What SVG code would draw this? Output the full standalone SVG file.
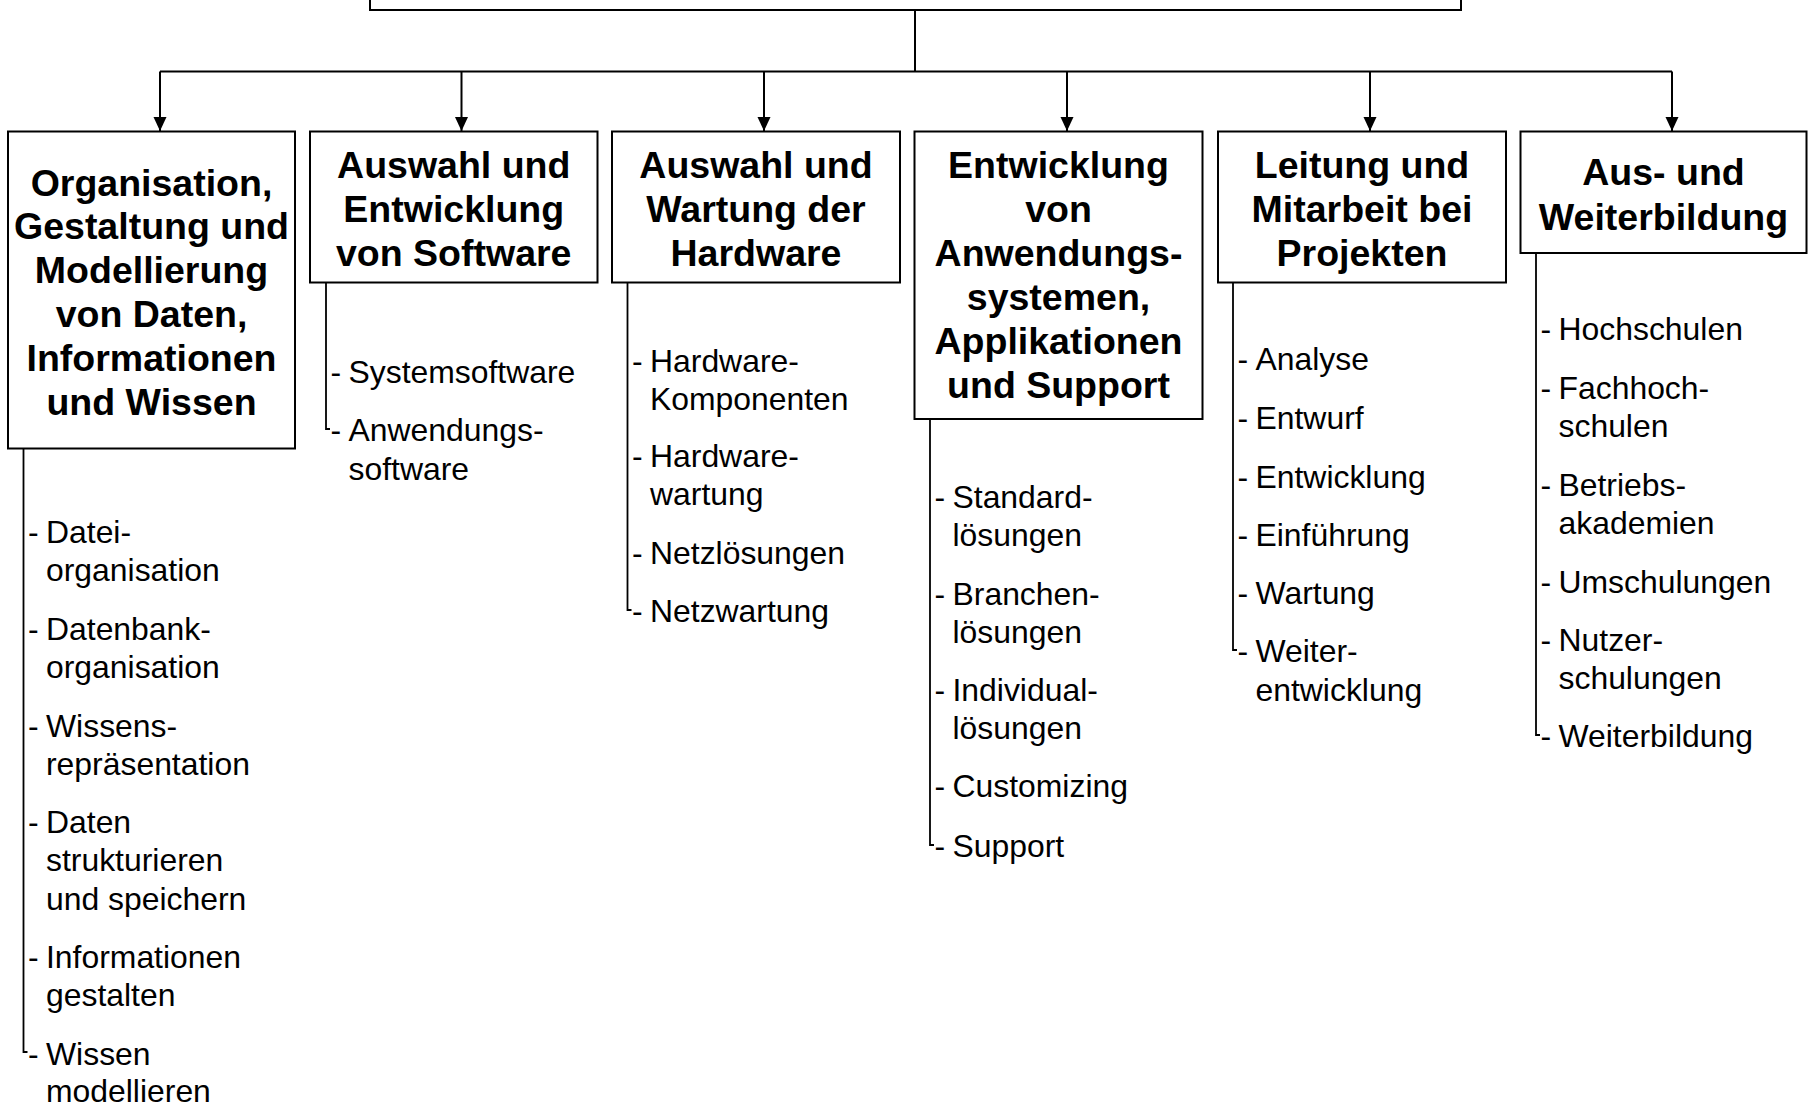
<svg xmlns="http://www.w3.org/2000/svg" width="1808" height="1103" viewBox="0 0 1808 1103">
<defs>
<style>
.box{fill:#fff;stroke:#000;stroke-width:2}
.conn{fill:none;stroke:#000;stroke-width:2}
.br{fill:none;stroke:#000;stroke-width:1.8}
.h{font-family:"Liberation Sans",Arial,sans-serif;font-weight:bold;font-size:37.5px;text-anchor:middle;fill:#000}
.t{font-family:"Liberation Sans",Arial,sans-serif;font-size:31.9px;fill:#000}
</style>
<marker id="arr" markerUnits="userSpaceOnUse" markerWidth="14" markerHeight="14" refX="14" refY="7" orient="auto">
<path d="M0,0.5 L14,7 L0,13.5 z" fill="#000"/>
</marker>
</defs>
<rect width="1808" height="1103" fill="#fff"/>

<g id="root">
<rect class="box" x="370" y="-60" width="1091" height="70"/>
</g>

<g id="connectors">
<path class="conn" d="M915,10 V71.5 M160,71.5 H1672"/>
<line class="conn" x1="160" y1="71.5" x2="160" y2="131" marker-end="url(#arr)"/>
<line class="conn" x1="461.5" y1="71.5" x2="461.5" y2="131" marker-end="url(#arr)"/>
<line class="conn" x1="764" y1="71.5" x2="764" y2="131" marker-end="url(#arr)"/>
<line class="conn" x1="1067" y1="71.5" x2="1067" y2="131" marker-end="url(#arr)"/>
<line class="conn" x1="1370" y1="71.5" x2="1370" y2="131" marker-end="url(#arr)"/>
<line class="conn" x1="1672" y1="71.5" x2="1672" y2="131" marker-end="url(#arr)"/>
</g>

<g id="node1">
<rect class="box" x="8" y="131.5" width="287" height="317"/>
<text class="h" x="151.5" y="195.5">Organisation,</text>
<text class="h" x="151.5" y="239.3">Gestaltung und</text>
<text class="h" x="151.5" y="283.1">Modellierung</text>
<text class="h" x="151.5" y="326.9">von Daten,</text>
<text class="h" x="151.5" y="370.7">Informationen</text>
<text class="h" x="151.5" y="414.5">und Wissen</text>
<path class="br" d="M23.5,448.5 V1052 h4"/>
<text class="t" x="28" y="543">-</text><text class="t" x="46" y="543">Datei-</text>
<text class="t" x="46" y="581">organisation</text>
<text class="t" x="28" y="640">-</text><text class="t" x="46" y="640">Datenbank-</text>
<text class="t" x="46" y="678">organisation</text>
<text class="t" x="28" y="737">-</text><text class="t" x="46" y="737">Wissens-</text>
<text class="t" x="46" y="775">repräsentation</text>
<text class="t" x="28" y="833">-</text><text class="t" x="46" y="833">Daten</text>
<text class="t" x="46" y="871">strukturieren</text>
<text class="t" x="46" y="910">und speichern</text>
<text class="t" x="28" y="968">-</text><text class="t" x="46" y="968">Informationen</text>
<text class="t" x="46" y="1006">gestalten</text>
<text class="t" x="28" y="1065">-</text><text class="t" x="46" y="1065">Wissen</text>
<text class="t" x="46" y="1102">modellieren</text>
</g>

<g id="node2">
<rect class="box" x="310" y="131.5" width="287.5" height="151"/>
<text class="h" x="453.75" y="178">Auswahl und</text>
<text class="h" x="453.75" y="222">Entwicklung</text>
<text class="h" x="453.75" y="266">von Software</text>
<path class="br" d="M326,282.5 V429 h4"/>
<text class="t" x="330.5" y="382.5">-</text><text class="t" x="348.5" y="382.5">Systemsoftware</text>
<text class="t" x="330.5" y="441">-</text><text class="t" x="348.5" y="441">Anwendungs-</text>
<text class="t" x="348.5" y="479.5">software</text>
</g>

<g id="node3">
<rect class="box" x="612" y="131.5" width="288" height="151"/>
<text class="h" x="756" y="178">Auswahl und</text>
<text class="h" x="756" y="222">Wartung der</text>
<text class="h" x="756" y="266">Hardware</text>
<path class="br" d="M627.5,282.5 V610 h4"/>
<text class="t" x="632" y="371.5">-</text><text class="t" x="650" y="371.5">Hardware-</text>
<text class="t" x="650" y="409.5">Komponenten</text>
<text class="t" x="632" y="467">-</text><text class="t" x="650" y="467">Hardware-</text>
<text class="t" x="650" y="505">wartung</text>
<text class="t" x="632" y="563.5">-</text><text class="t" x="650" y="563.5">Netzlösungen</text>
<text class="t" x="632" y="621.5">-</text><text class="t" x="650" y="621.5">Netzwartung</text>
</g>

<g id="node4">
<rect class="box" x="914.5" y="131.5" width="288" height="287.5"/>
<text class="h" x="1058.5" y="178">Entwicklung</text>
<text class="h" x="1058.5" y="222">von</text>
<text class="h" x="1058.5" y="266">Anwendungs-</text>
<text class="h" x="1058.5" y="310">systemen,</text>
<text class="h" x="1058.5" y="354">Applikationen</text>
<text class="h" x="1058.5" y="398">und Support</text>
<path class="br" d="M930,419 V845 h4"/>
<text class="t" x="934.5" y="507.5">-</text><text class="t" x="952.5" y="507.5">Standard-</text>
<text class="t" x="952.5" y="545.5">lösungen</text>
<text class="t" x="934.5" y="604.5">-</text><text class="t" x="952.5" y="604.5">Branchen-</text>
<text class="t" x="952.5" y="642.5">lösungen</text>
<text class="t" x="934.5" y="701">-</text><text class="t" x="952.5" y="701">Individual-</text>
<text class="t" x="952.5" y="739">lösungen</text>
<text class="t" x="934.5" y="797">-</text><text class="t" x="952.5" y="797">Customizing</text>
<text class="t" x="934.5" y="856.5">-</text><text class="t" x="952.5" y="856.5">Support</text>
</g>

<g id="node5">
<rect class="box" x="1218" y="131.5" width="288" height="151"/>
<text class="h" x="1362" y="178">Leitung und</text>
<text class="h" x="1362" y="222">Mitarbeit bei</text>
<text class="h" x="1362" y="266">Projekten</text>
<path class="br" d="M1233,282.5 V650 h4"/>
<text class="t" x="1237.5" y="370">-</text><text class="t" x="1255.5" y="370">Analyse</text>
<text class="t" x="1237.5" y="429">-</text><text class="t" x="1255.5" y="429">Entwurf</text>
<text class="t" x="1237.5" y="487.5">-</text><text class="t" x="1255.5" y="487.5">Entwicklung</text>
<text class="t" x="1237.5" y="545.5">-</text><text class="t" x="1255.5" y="545.5">Einführung</text>
<text class="t" x="1237.5" y="604">-</text><text class="t" x="1255.5" y="604">Wartung</text>
<text class="t" x="1237.5" y="662">-</text><text class="t" x="1255.5" y="662">Weiter-</text>
<text class="t" x="1255.5" y="701">entwicklung</text>
</g>

<g id="node6">
<rect class="box" x="1520.5" y="131.5" width="286" height="121.5"/>
<text class="h" x="1663.5" y="185">Aus- und</text>
<text class="h" x="1663.5" y="229.5">Weiterbildung</text>
<path class="br" d="M1536,253 V735 h4"/>
<text class="t" x="1540.5" y="340">-</text><text class="t" x="1558.5" y="340">Hochschulen</text>
<text class="t" x="1540.5" y="399">-</text><text class="t" x="1558.5" y="399">Fachhoch-</text>
<text class="t" x="1558.5" y="437">schulen</text>
<text class="t" x="1540.5" y="496">-</text><text class="t" x="1558.5" y="496">Betriebs-</text>
<text class="t" x="1558.5" y="534">akademien</text>
<text class="t" x="1540.5" y="592.5">-</text><text class="t" x="1558.5" y="592.5">Umschulungen</text>
<text class="t" x="1540.5" y="650.5">-</text><text class="t" x="1558.5" y="650.5">Nutzer-</text>
<text class="t" x="1558.5" y="688.5">schulungen</text>
<text class="t" x="1540.5" y="747">-</text><text class="t" x="1558.5" y="747">Weiterbildung</text>
</g>
</svg>
